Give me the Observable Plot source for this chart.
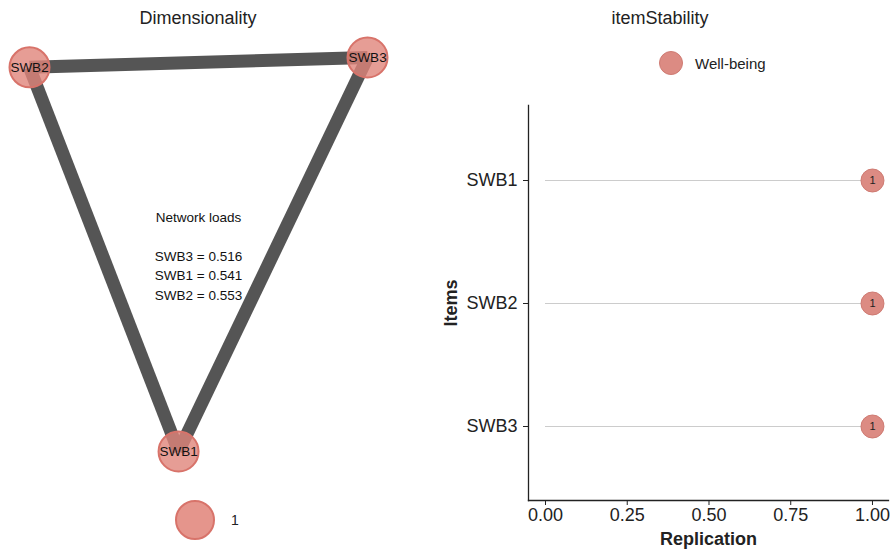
<!DOCTYPE html>
<html>
<head>
<meta charset="utf-8">
<script src="https://cdn.jsdelivr.net/npm/d3@7"></script>
<script src="https://cdn.jsdelivr.net/npm/@observablehq/plot@0.6"></script>
<style>
  html, body { margin: 0; padding: 0; background: #fff; }
  body { font-family: "Liberation Sans", Arial, sans-serif; }
  #wrap { position: relative; width: 896px; height: 553px; overflow: hidden; }
  .panel { position: absolute; top: 0; }
  .title { position: absolute; top: 8px; font-size: 18px; color: #222; text-align: center; }
  .leg { position: absolute; display: flex; align-items: center; color: #222; }
  .leg .c { border-radius: 50%; box-sizing: border-box; }
</style>
</head>
<body>
<div id="wrap">
  <div class="title" style="left:0;width:396px;">Dimensionality</div>
  <div class="title" style="left:460px;width:400px;">itemStability</div>
  <div class="leg" style="left:175px;top:500px;font-size:14px;">
    <div class="c" style="width:40px;height:40px;background:rgba(224,130,120,0.85);border:2px solid #d8736a;"></div>
    <span style="margin-left:16px;">1</span>
  </div>
  <div class="leg" style="left:659px;top:51px;font-size:15px;">
    <div class="c" style="width:24px;height:24px;background:#dc8b83;border:1px solid #cf7b73;"></div>
    <span style="margin-left:12px;">Well-being</span>
  </div>
  <div id="left" class="panel" style="left:0;"></div>
  <div id="right" class="panel" style="left:440px;"></div>
</div>
<script>
// ---- Network (Dimensionality) data ----
const nodeNames = ["SWB1", "SWB2", "SWB3"];
const nodeX = [-0.118, -1.0, 1.0];   // layout coordinates
const nodeY = [-1.0, 0.95, 1.0];
const edgeFrom = ["SWB2", "SWB1", "SWB1"];
const edgeTo   = ["SWB3", "SWB2", "SWB3"];
const loadNames = ["SWB3", "SWB1", "SWB2"];
const loadValues = [0.516, 0.541, 0.553];

// ---- Item stability data ----
const items = ["SWB1", "SWB2", "SWB3"];
const replication = [1.0, 1.0, 1.0];
const dimensionLabel = ["1", "1", "1"];
const xTicks = [0, 0.25, 0.5, 0.75, 1.0];

const nodes = nodeNames.map((n, i) => ({name: n, x: nodeX[i], y: nodeY[i]}));
const byName = Object.fromEntries(nodes.map(d => [d.name, d]));
const edges = edgeFrom.map((f, i) => ({a: byName[f], b: byName[edgeTo[i]]}));
const loadText = "Network loads\n\n" + loadNames.map((n, i) => `${n} = ${loadValues[i].toFixed(3)}`).join("\n");

const left = Plot.plot({
  width: 440, height: 553,
  marginLeft: 29, marginRight: 73, marginTop: 57, marginBottom: 102,
  x: {domain: [-1, 1], axis: null},
  y: {domain: [-1, 1], axis: null},
  style: {fontFamily: "Liberation Sans, Arial, sans-serif", background: "transparent"},
  marks: [
    Plot.link(edges, {x1: d => d.a.x, y1: d => d.a.y, x2: d => d.b.x, y2: d => d.b.y,
      stroke: "#555555", strokeWidth: 13, strokeLinecap: "butt"}),
    Plot.dot(nodes, {x: "x", y: "y", r: 20, fill: "#e0847a", fillOpacity: 0.8, stroke: "#d8736a", strokeWidth: 2}),
    Plot.text(nodes, {x: "x", y: "y", text: "name", fontSize: 13.5, fill: "#111"}),
    Plot.text([loadText], {frameAnchor: "middle", text: d => d, fontSize: 13.5, lineHeight: 1.45, fill: "#111"})
  ]
});
document.getElementById("left").appendChild(left);

const stab = items.map((it, i) => ({item: it, value: replication[i], lab: dimensionLabel[i]}));

const right = Plot.plot({
  width: 456, height: 553,
  marginLeft: 88, marginRight: 8, marginTop: 105, marginBottom: 53,
  x: {domain: [-0.052, 1.049], ticks: xTicks, tickFormat: d3.format(".2f")},
  y: {type: "point", domain: items, padding: 0.6},
  style: {fontFamily: "Liberation Sans, Arial, sans-serif", background: "transparent"},
  marks: [
    Plot.ruleY(stab, {y: "item", x1: 0, x2: "value", stroke: "#cccccc", strokeWidth: 1}),
    Plot.frame({anchor: "left", stroke: "#222", strokeWidth: 1.3}),
    Plot.frame({anchor: "bottom", stroke: "#222", strokeWidth: 1.3}),
    Plot.axisX({ticks: xTicks, tickFormat: d3.format(".2f"), tickSize: 5, tickPadding: 3, fontSize: 18, stroke: "#222", fill: "#222",
      label: "Replication", labelAnchor: "center", labelOffset: 44}),
    Plot.axisY({tickSize: 5, tickPadding: 6, fontSize: 18, stroke: "#222", fill: "#222",
      label: "Items", labelAnchor: "center", labelOffset: 84}),
    Plot.dot(stab, {x: "value", y: "item", r: 11.5, fill: "#dc8b83", stroke: "#cf7b73", strokeWidth: 1}),
    Plot.text(stab, {x: "value", y: "item", text: "lab", fontSize: 11, fill: "#222"})
  ]
});
document.getElementById("right").appendChild(right);

// bold axis titles, no arrows
right.querySelectorAll("[aria-label='x-axis label'] text, [aria-label='y-axis label'] text").forEach(t => {
  t.style.fontWeight = "bold"; t.style.fontSize = "18px";
  t.textContent = t.textContent.replace(/[\u2190-\u2193]/g, "").trim();
});
right.querySelectorAll("[aria-label='x-axis tick label'] text, [aria-label='y-axis tick label'] text").forEach(t => {
  t.style.fontWeight = "normal";
});
</script>
</body>
</html>
